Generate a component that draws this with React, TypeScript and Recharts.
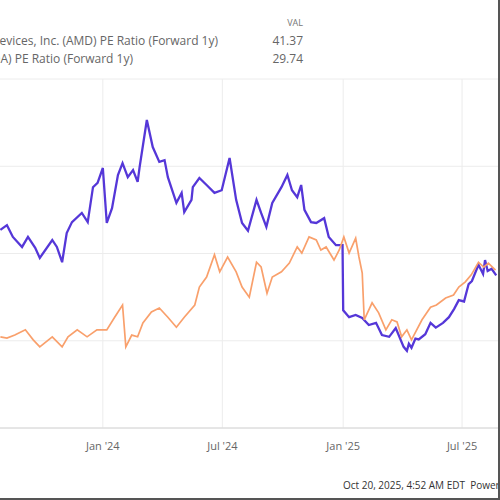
import React from 'react'
import { CartesianGrid, Line, LineChart, XAxis, YAxis } from 'recharts'

// x axis ticks
const tickDates = ['2023-07-01', '2024-01-01', '2024-07-01', '2025-01-01', '2025-07-01']
const tickLabels = ["Jul '23", "Jan '24", "Jul '24", "Jan '25", "Jul '25"]
const yTicks = [0, 20, 40, 60, 80]

// AMD PE Ratio (Forward 1y)
const amdDates = [
  '2023-07-29', '2023-08-08', '2023-08-17', '2023-08-31', '2023-09-09', '2023-09-20',
  '2023-09-27', '2023-10-16', '2023-10-23', '2023-10-31', '2023-11-07', '2023-11-15',
  '2023-11-30', '2023-12-09', '2023-12-17', '2023-12-24', '2024-01-01', '2024-01-07',
  '2024-01-15', '2024-01-24', '2024-01-31', '2024-02-08', '2024-02-16', '2024-02-23',
  '2024-02-26', '2024-03-08', '2024-03-17', '2024-03-27', '2024-04-04', '2024-04-09',
  '2024-04-22', '2024-04-30', '2024-05-04', '2024-05-15', '2024-05-17', '2024-05-27',
  '2024-06-07', '2024-06-19', '2024-06-30', '2024-07-12', '2024-07-22', '2024-07-31',
  '2024-08-09', '2024-08-22', '2024-08-29', '2024-09-06', '2024-09-15', '2024-09-29',
  '2024-10-08', '2024-10-15', '2024-10-23', '2024-10-29', '2024-11-03', '2024-11-13',
  '2024-11-21', '2024-12-03', '2024-12-10', '2024-12-21', '2024-12-31', '2025-01-01',
  '2025-01-10', '2025-01-20', '2025-01-30', '2025-02-09', '2025-02-20', '2025-03-01',
  '2025-03-12', '2025-03-22', '2025-04-03', '2025-04-08', '2025-04-11', '2025-04-15',
  '2025-04-21', '2025-04-26', '2025-05-06', '2025-05-14', '2025-05-22', '2025-06-02',
  '2025-06-11', '2025-06-19', '2025-06-26', '2025-07-04', '2025-07-11', '2025-07-16',
  '2025-07-26', '2025-08-02', '2025-08-05', '2025-08-09', '2025-08-15', '2025-08-22'
]
const amdValues = [
  45.4, 46.5, 43.8, 41.5, 43.8, 41.3,
  39.0, 43.1, 41.5, 38.0, 44.7, 47.2,
  49.3, 47.2, 55.2, 56.2, 59.6, 47.0,
  50.4, 58.0, 60.7, 57.5, 59.1, 56.4,
  59.8, 70.6, 64.4, 61.0, 61.4, 57.5,
  51.6, 53.9, 49.5, 52.3, 55.2, 57.3,
  55.7, 53.9, 54.5, 61.9, 52.3, 47.0,
  45.2, 52.3, 49.3, 46.1, 51.6, 55.2,
  58.0, 54.5, 52.9, 55.7, 50.0, 47.2,
  47.0, 48.1, 43.8, 41.9, 41.9, 27.0,
  25.4, 25.9, 25.2, 23.6, 24.1, 21.3,
  20.9, 22.9, 18.6, 17.7, 19.3, 18.4,
  20.5, 20.3, 21.5, 24.1, 23.0, 24.1,
  25.4, 27.3, 29.3, 29.0, 33.0, 33.7,
  37.4, 35.3, 38.5, 36.0, 36.5, 35.0
]

// NVDA PE Ratio (Forward 1y)
const nvdaDates = [
  '2023-07-29', '2023-08-08', '2023-08-20', '2023-09-05', '2023-09-17', '2023-09-27',
  '2023-10-16', '2023-10-31', '2023-11-09', '2023-11-23', '2023-12-08', '2023-12-23',
  '2024-01-07', '2024-01-19', '2024-01-31', '2024-02-05', '2024-02-14', '2024-02-23',
  '2024-03-02', '2024-03-15', '2024-03-27', '2024-04-09', '2024-04-22', '2024-05-04',
  '2024-05-20', '2024-05-27', '2024-06-07', '2024-06-19', '2024-06-27', '2024-07-09',
  '2024-07-22', '2024-07-31', '2024-08-11', '2024-08-22', '2024-08-29', '2024-09-07',
  '2024-09-15', '2024-09-29', '2024-10-11', '2024-10-23', '2024-10-30', '2024-11-10',
  '2024-11-21', '2024-11-28', '2024-12-06', '2024-12-18', '2024-12-26', '2025-01-02',
  '2025-01-10', '2025-01-20', '2025-01-25', '2025-01-30', '2025-02-02', '2025-02-14',
  '2025-02-24', '2025-03-07', '2025-03-16', '2025-03-24', '2025-03-31', '2025-04-08',
  '2025-04-15', '2025-05-01', '2025-05-14', '2025-05-23', '2025-06-06', '2025-06-18',
  '2025-06-26', '2025-07-06', '2025-07-15', '2025-07-26', '2025-08-03', '2025-08-10',
  '2025-08-21'
]
const nvdaValues = [
  20.9, 20.6, 21.3, 22.5, 20.2, 18.6,
  20.9, 18.6, 20.9, 22.5, 20.9, 22.5,
  22.5, 25.4, 28.2, 18.6, 21.3, 20.9,
  24.1, 26.6, 27.5, 25.4, 23.1, 25.4,
  28.2, 32.3, 34.6, 39.7, 35.8, 39.2,
  35.8, 32.3, 30.0, 38.0, 36.9, 30.9,
  34.6, 35.8, 37.8, 41.5, 40.1, 43.8,
  43.1, 40.8, 41.5, 38.5, 40.8, 43.8,
  40.1, 43.5, 39.2, 35.5, 24.8, 28.7,
  26.4, 22.5, 24.8, 24.3, 20.9, 22.5,
  20.2, 24.8, 27.7, 28.2, 29.8, 30.5,
  32.3, 33.5, 35.1, 38.0, 36.9, 37.8,
  36.2
]

const DAY = 86400000
const toDay = (s: string) => (Date.parse(s) - Date.parse('2024-01-01')) / DAY

const amdData = amdDates.map((d, i) => ({ t: toDay(d), v: amdValues[i] }))
const nvdaData = nvdaDates.map((d, i) => ({ t: toDay(d), v: nvdaValues[i] }))
const ticks = tickDates.map(toDay)

const font = '"Open Sans", "DejaVu Sans", sans-serif'
const legendText = { position: 'absolute' as const, fontSize: 12, color: '#666', whiteSpace: 'nowrap' as const }

export default function App() {
  return (
    <div
      style={{
        position: 'absolute',
        left: 0,
        top: 0,
        width: 500,
        height: 500,
        overflow: 'hidden',
        background: '#fff',
        boxSizing: 'border-box',
        borderRight: '2px solid #555',
        borderBottom: '2px solid #555',
        fontFamily: font
      }}
    >
      {/* legend (cropped on the left) */}
      <div style={{ position: 'absolute', left: 262, width: 41, top: 16, fontSize: 9, color: '#777', textAlign: 'right' }}>
        VAL
      </div>
      <div style={{ ...legendText, right: 280, top: 32 }}>
        Advanced Micro Devices, Inc. (AMD) PE Ratio (Forward 1y)
      </div>
      <div style={{ ...legendText, left: 240, width: 63, top: 32, textAlign: 'right' }}>41.37</div>
      <div style={{ ...legendText, right: 365, top: 50 }}>
        NVIDIA Corp (NVDA) PE Ratio (Forward 1y)
      </div>
      <div style={{ ...legendText, left: 240, width: 63, top: 50, textAlign: 'right' }}>29.74</div>

      <div style={{ position: 'absolute', left: -58, top: 0 }}>
        <LineChart width={568} height={500} margin={{ top: 79, right: 0, bottom: 42, left: 40 }}>
          <CartesianGrid stroke="#ececec" strokeWidth={1} />
          <XAxis
            type="number"
            dataKey="t"
            domain={[toDay('2023-07-01'), toDay('2025-09-12')]}
            ticks={ticks}
            tickFormatter={(v: number) => tickLabels[ticks.indexOf(v)] ?? ''}
            interval={0}
            allowDataOverflow
            stroke="#d6d6d6"
            tickLine={false}
            tickMargin={8}
            height={30}
            tick={{ fill: '#666', fontSize: 11, fontFamily: font }}
          />
          <YAxis hide domain={[0, 80]} ticks={yTicks} />
          <Line
            data={amdData}
            dataKey="v"
            type="linear"
            stroke="#5537d8"
            strokeWidth={2.3}
            dot={false}
            isAnimationActive={false}
          />
          <Line
            data={nvdaData}
            dataKey="v"
            type="linear"
            stroke="#f9a06c"
            strokeWidth={1.7}
            dot={false}
            isAnimationActive={false}
          />
        </LineChart>
      </div>

      <div style={{ position: 'absolute', left: 343, top: 478, fontSize: 10, color: '#333', whiteSpace: 'nowrap' }}>
        Oct 20, 2025, 4:52 AM EDT&nbsp;&nbsp;Powered by YCharts
      </div>
    </div>
  )
}
